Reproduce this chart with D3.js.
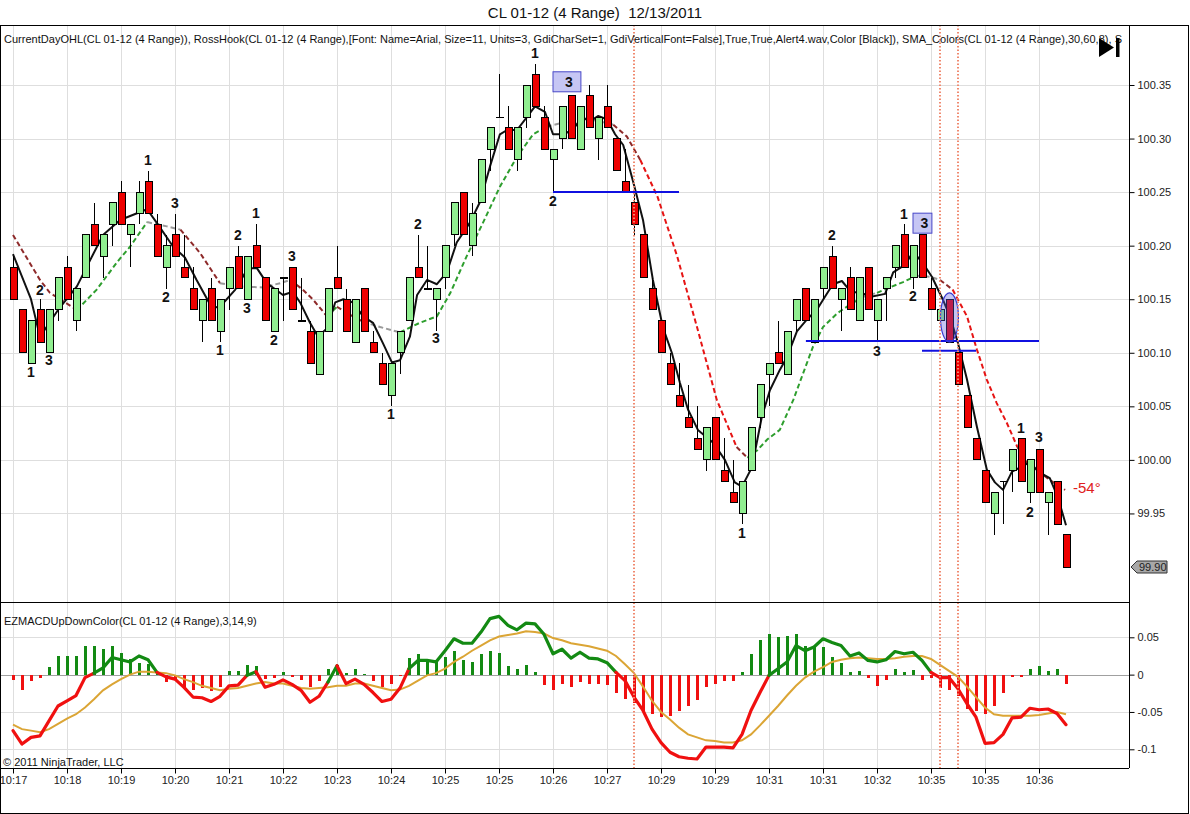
<!DOCTYPE html>
<html>
<head>
<meta charset="utf-8">
<script src="https://cdn.jsdelivr.net/npm/d3@7/dist/d3.min.js"></script>
<style>
body{margin:0;background:#fff;}
svg{display:block;font-family:Arial,"Liberation Sans",sans-serif;}
</style>
</head>
<body>
<svg id="chart"></svg>
<script>
// ---- candles (one per 4-tick range bar) ----
let opens = [100.18,100.14,100.09,100.14,100.10,100.14,100.18,100.13,100.17,100.22,
  100.19,100.22,100.25,100.21,100.23,100.26,100.22,100.18,100.21,100.18,
  100.16,100.13,100.16,100.12,100.16,100.19,100.15,100.20,100.17,100.12,
  100.17,100.18,100.13,100.12,100.08,100.12,100.17,100.15,100.11,100.16,
  100.11,100.09,100.06,100.10,100.13,100.18,100.16,100.15,100.17,100.21,
  100.25,100.20,100.24,100.29,100.32,100.31,100.28,100.32,100.36,100.32,
  100.28,100.30,100.34,100.29,100.34,100.30,100.33,100.30,100.26,100.24,
  100.21,100.16,100.13,100.09,100.06,100.04,100.02,100.00,100.04,99.99,
  99.97,99.95,99.99,100.04,100.08,100.10,100.08,100.13,100.16,100.11,
  100.16,100.19,100.15,100.17,100.13,100.18,100.13,100.16,100.18,100.21,
  100.17,100.21,100.16,100.13,100.15,100.10,100.06,100.02,99.99,99.95,
  99.98,99.99,100.02,99.97,100.01,99.96,99.98,99.93];
let highs = [100.19,100.14,100.13,100.15,100.14,100.17,100.19,100.16,100.21,100.24,
  100.21,100.24,100.26,100.22,100.26,100.27,100.23,100.21,100.23,100.21,
  100.18,100.15,100.17,100.15,100.18,100.20,100.19,100.22,100.17,100.16,
  100.17,100.18,100.17,100.13,100.12,100.16,100.20,100.16,100.15,100.16,
  100.12,100.10,100.09,100.12,100.17,100.21,100.20,100.16,100.20,100.24,
  100.25,100.24,100.28,100.31,100.36,100.33,100.31,100.35,100.37,100.33,
  100.29,100.33,100.34,100.33,100.35,100.32,100.35,100.30,100.29,100.25,
  100.21,100.17,100.13,100.10,100.09,100.07,100.05,100.03,100.04,100.02,
  100.00,99.98,100.03,100.07,100.09,100.13,100.12,100.15,100.16,100.15,
  100.18,100.20,100.16,100.18,100.17,100.18,100.15,100.17,100.20,100.22,
  100.20,100.21,100.17,100.14,100.15,100.10,100.06,100.02,99.99,99.97,
  99.98,100.01,100.02,100.00,100.01,99.97,99.98,99.93];
let lows = [100.15,100.10,100.09,100.11,100.10,100.13,100.15,100.12,100.17,100.20,
  100.17,100.20,100.22,100.18,100.22,100.23,100.19,100.16,100.19,100.17,
  100.14,100.11,100.13,100.11,100.14,100.16,100.15,100.18,100.13,100.12,
  100.13,100.14,100.13,100.09,100.08,100.12,100.16,100.12,100.11,100.12,
  100.10,100.07,100.05,100.08,100.13,100.17,100.16,100.12,100.16,100.20,
  100.21,100.19,100.24,100.27,100.32,100.29,100.27,100.31,100.33,100.29,
  100.25,100.29,100.30,100.29,100.31,100.28,100.31,100.27,100.25,100.21,
  100.17,100.14,100.10,100.07,100.05,100.03,100.01,99.99,100.00,99.98,
  99.96,99.94,99.99,100.03,100.05,100.09,100.08,100.12,100.13,100.11,
  100.15,100.16,100.12,100.14,100.13,100.14,100.11,100.13,100.17,100.18,
  100.16,100.17,100.14,100.13,100.11,100.07,100.03,100.00,99.96,99.93,
  99.94,99.97,99.98,99.96,99.97,99.93,99.94,99.90];
let closes = [100.15,100.10,100.13,100.11,100.14,100.17,100.15,100.16,100.21,100.20,
  100.21,100.24,100.22,100.22,100.25,100.23,100.19,100.20,100.19,100.17,
  100.14,100.15,100.13,100.15,100.18,100.16,100.19,100.18,100.13,100.16,
  100.17,100.14,100.13,100.09,100.12,100.16,100.16,100.12,100.15,100.12,
  100.10,100.07,100.09,100.12,100.17,100.17,100.16,100.16,100.20,100.24,
  100.21,100.23,100.28,100.31,100.32,100.29,100.31,100.35,100.33,100.29,
  100.29,100.33,100.30,100.33,100.31,100.32,100.31,100.27,100.25,100.22,
  100.17,100.14,100.10,100.07,100.05,100.03,100.01,100.03,100.00,99.98,
  99.96,99.98,100.03,100.07,100.09,100.09,100.12,100.15,100.13,100.15,
  100.18,100.16,100.16,100.14,100.17,100.14,100.15,100.17,100.20,100.18,
  100.20,100.17,100.14,100.14,100.11,100.07,100.03,100.00,99.96,99.97,
  99.98,100.01,99.98,100.00,99.97,99.97,99.94,99.90];

// ---- fast average (black): bar position / price ----
let fastBar = [0,2,3,5,7.1,8.6,10,11.9,14.9,16,17.8,19.1,20.4,22.1,23,24.7,26.1,27.1,28.2,30,
  31.1,31.9,33,33.9,34.9,35.8,36.7,37.8,38.9,40,41.1,42.1,43,44.1,44.9,46,47.1,48.2,49.3,50.8,
  51.9,53,54.1,54.9,56,57.1,58,59.1,60,61.1,62.2,63.2,64.1,65,66,66.9,67.8,68.9,70,71.1,
  72.2,73.2,74.1,75,76.1,77.8,79.1,80.2,81,82.1,83.2,84.1,85.2,86,87.1,88.2,89.3,90.2,91.1,92.1,
  93.2,94.1,95.2,96.9,97.8,99.1,100,101,102.1,103.3,104.1,105,106,107.1,108.2,109.1,110,111,111.9,113,
  113.9,115.2,116.1,117];
let fastVal = [100.192,100.150,100.115,100.140,100.162,100.187,100.210,100.224,100.234,100.221,
  100.199,100.189,100.168,100.142,100.143,100.159,100.179,100.179,100.165,100.154,
  100.157,100.147,100.128,100.115,100.123,100.147,100.150,100.147,100.134,100.128,
  100.109,100.091,100.093,100.115,100.154,100.168,100.164,100.175,100.203,100.222,
  100.241,100.274,100.304,100.308,100.308,100.320,100.330,100.325,100.304,100.304,
  100.308,100.320,100.316,100.321,100.318,100.304,100.294,100.260,100.224,100.168,
  100.124,100.100,100.072,100.047,100.028,100.016,100.000,99.979,99.975,99.993,
  100.040,100.065,100.084,100.096,100.120,100.131,100.140,100.152,100.164,100.167,
  100.156,100.157,100.152,100.155,100.175,100.182,100.194,100.185,100.171,100.150,
  100.134,100.109,100.075,100.031,99.991,99.979,99.972,99.989,99.993,99.998,
  99.989,99.983,99.965,99.939];

// ---- slow average (coloured dashes) ----
let slowBar = [0,3,4.1,7.1,9.3,11.6,13,14.9,17.1,18.6,20.8,23,25.2,27.8,29.7,30.8,32.2,33.3,34.9,36,
  37.1,38.9,40.8,43,45.2,47.1,48.6,50.4,52.2,54.1,56,57.8,59.3,61.6,63,65.2,66.7,68.2,69.7,71.6,
  73.8,76,78.2,80.4,81.6,82.7,83.8,85.2,86.7,87.8,88.9,90,91.6,93,94.4,96,97.4,98.9,100.4,101.9,
  103,104.4,106,107.1,108.2,109.3,110.4,111.6,112.7,114.1,115.6,116.9];
let slowVal = [100.210,100.168,100.156,100.140,100.159,100.185,100.199,100.222,100.218,100.215,
  100.193,100.165,100.162,100.161,100.165,100.168,100.159,100.150,100.134,100.143,
  100.137,100.129,100.124,100.119,100.128,100.134,100.156,100.190,100.221,100.255,
  100.283,100.304,100.311,100.316,100.320,100.316,100.313,100.302,100.280,100.246,
  100.190,100.124,100.056,100.012,100.002,100.009,100.019,100.028,100.056,100.081,
  100.106,100.124,100.137,100.145,100.152,100.156,100.161,100.166,100.172,100.171,
  100.168,100.159,100.134,100.103,100.075,100.053,100.035,100.012,99.997,99.988,
  99.979,99.972];

// ---- hook labels ----
let hookBar = [2,3,4,15,17,18,23,25,26,27,29,31,42,45,47,58,60,81,91,96,99,100,112,114,113];
let hookText = ["1","2","3","1","2","3","1","2","3","1","2","3","1","2","3","1","2","1","2","3","1","2","1","3","2"];
let hookPrice = [100.082,100.159,100.093,100.280,100.152,100.240,100.103,100.210,100.142,100.231,
  100.112,100.190,100.043,100.220,100.114,100.380,100.242,99.932,100.210,100.102,100.230,100.153,
  100.030,100.021,99.951];
let boxFrom = [60,100];
let boxTo = [63.1,102.1];
let boxPrice = [100.353,100.221];
let boxText = ["3","3"];

// ---- horizontal levels, alert lines, highlight ----
let levelPrice = [100.25,100.111,100.102];
let levelFrom = [60,88.1,101];
let levelTo = [74,114,107];
let alertBars = [69,103,105];
let highlightBar = 104.05;
let highlightTop = 100.156;
let highlightBottom = 100.110;
let lastPrice = 99.90;
let angleText = "-54°";

// ---- MACD panel ----
let macd = [-0.075,-0.093,-0.084,-0.082,-0.062,-0.042,-0.035,-0.028,-0.004,0.002,
  0.009,0.023,0.020,0.017,0.025,0.020,0.003,-0.003,-0.006,-0.017,
  -0.030,-0.031,-0.036,-0.029,-0.015,-0.014,-0.001,0.004,-0.017,-0.013,
  -0.007,-0.013,-0.021,-0.037,-0.029,-0.010,0.012,-0.012,-0.006,-0.013,
  -0.024,-0.036,-0.033,-0.018,0.008,0.019,0.019,0.017,0.032,0.048,
  0.042,0.042,0.057,0.075,0.078,0.066,0.060,0.069,0.068,0.054,
  0.028,0.034,0.022,0.030,0.022,0.021,0.016,0.003,-0.008,-0.030,
  -0.048,-0.073,-0.091,-0.104,-0.110,-0.112,-0.113,-0.097,-0.097,-0.097,
  -0.098,-0.080,-0.048,-0.024,-0.001,0.008,0.017,0.039,0.032,0.037,
  0.048,0.043,0.039,0.025,0.029,0.019,0.017,0.020,0.031,0.028,
  0.030,0.019,0.003,-0.004,-0.004,-0.019,-0.039,-0.057,-0.092,-0.091,
  -0.080,-0.058,-0.057,-0.045,-0.047,-0.046,-0.052,-0.067];
let signal = [-0.067,-0.073,-0.075,-0.077,-0.073,-0.066,-0.059,-0.053,-0.044,-0.033,
  -0.021,-0.013,-0.006,0.000,0.004,0.004,0.003,0.002,-0.001,-0.006,
  -0.010,-0.015,-0.018,-0.021,-0.019,-0.018,-0.015,-0.012,-0.010,-0.012,
  -0.012,-0.015,-0.018,-0.019,-0.018,-0.017,-0.015,-0.015,-0.012,-0.012,
  -0.015,-0.018,-0.021,-0.020,-0.015,-0.008,-0.001,0.002,0.008,0.017,
  0.024,0.032,0.039,0.046,0.051,0.053,0.055,0.058,0.057,0.055,
  0.049,0.046,0.042,0.040,0.038,0.035,0.032,0.025,0.014,0.002,
  -0.016,-0.035,-0.050,-0.060,-0.071,-0.080,-0.084,-0.088,-0.089,-0.091,
  -0.091,-0.088,-0.080,-0.068,-0.055,-0.042,-0.028,-0.015,-0.004,0.004,
  0.010,0.017,0.020,0.022,0.023,0.022,0.021,0.021,0.022,0.024,
  0.025,0.025,0.021,0.013,0.005,-0.003,-0.016,-0.030,-0.044,-0.053,
  -0.055,-0.055,-0.055,-0.055,-0.054,-0.052,-0.050,-0.053];
let hist = [-0.007,-0.021,-0.009,-0.005,0.010,0.025,0.025,0.025,0.039,0.039,
  0.034,0.038,0.029,0.021,0.015,0.014,0.002,-0.010,-0.007,-0.016,
  -0.021,-0.018,-0.022,-0.016,0.005,0.005,0.013,0.011,-0.006,-0.004,
  0.004,-0.003,-0.007,-0.016,-0.009,0.007,0.013,0.002,0.007,0.001,
  -0.008,-0.017,-0.012,-0.002,0.022,0.027,0.020,0.017,0.023,0.032,
  0.019,0.017,0.027,0.032,0.029,0.012,0.007,0.013,0.004,-0.014,
  -0.021,-0.012,-0.017,-0.010,-0.013,-0.012,-0.014,-0.025,-0.033,-0.038,
  -0.050,-0.053,-0.057,-0.055,-0.049,-0.042,-0.034,-0.016,-0.012,-0.009,
  -0.008,0.004,0.027,0.046,0.055,0.051,0.052,0.055,0.038,0.037,
  0.037,0.024,0.015,0.003,0.005,-0.004,-0.015,-0.007,0.008,0.003,
  0.006,-0.007,-0.005,-0.018,-0.021,-0.028,-0.046,-0.049,-0.053,-0.042,
  -0.024,-0.003,-0.003,0.008,0.011,0.005,0.007,-0.013];

// ---- axes ----
let timeTickBars = [0,6,12,18,24,30,36,42,48,54,60,66,72,78,84,90,96,102,108,114];
let timeLabels = ["10:17","10:18","10:19","10:20","10:21","10:22","10:23","10:24","10:25","10:25",
  "10:26","10:27","10:29","10:29","10:31","10:31","10:32","10:35","10:35","10:36"];
let priceTicks = [99.95,100.00,100.05,100.10,100.15,100.20,100.25,100.30,100.35];
let macdTicks = [0.05,0,-0.05,-0.1];

let titleText = "CL 01-12 (4 Range)  12/13/2011";
let studyText = "CurrentDayOHL(CL 01-12 (4 Range)), RossHook(CL 01-12 (4 Range),[Font: Name=Arial, Size=11, Units=3, GdiCharSet=1, GdiVerticalFont=False],True,True,Alert4.wav,Color [Black]), SMA_Colors(CL 01-12 (4 Range),30,60,8), S";
let macdText = "EZMACDUpDownColor(CL 01-12 (4 Range),3,14,9)";
let copyText = "© 2011 NinjaTrader, LLC";

let width = 1190;
let height = 814;
let panel = {left:0, right:1129, top:25, split:602, bottom:768};

let colors = {
  up:"#90ee90", down:"#ee0000", grid:"#dedede", axis:"#000",
  macdUp:"#138a13", macdDown:"#f01010", signal:"#dba535",
  slowUp:"#2e9e2e", slowFlat:"#9a9a9a", slowDown:"#8e2a2a", slowFall:"#e61414",
  level:"#1010e0", alert:"#f08a70"
};

let svg = d3.select("#chart")
            .attr("width", width)
            .attr("height", height)
            .style("background-color", "white");

let scaleX = d3.scaleLinear().domain([0, 117]).range([13, 1066]);
let scaleY = d3.scaleLinear().domain([99.90, 100.35]).range([567, 85]);
let scaleM = d3.scaleLinear().domain([-0.1, 0.05]).range([749.3, 637.3]);

let defs = svg.append("defs");
defs.append("clipPath").attr("id", "clipMain")
    .append("rect").attr("x", 0).attr("y", panel.top).attr("width", panel.right).attr("height", panel.split - panel.top);
defs.append("clipPath").attr("id", "clipMacd")
    .append("rect").attr("x", 0).attr("y", panel.split).attr("width", panel.right).attr("height", panel.bottom - panel.split);

drawGrid();
let gMain = svg.append("g").attr("clip-path", "url(#clipMain)");
let gMacd = svg.append("g").attr("clip-path", "url(#clipMacd)");
drawSlow();
drawFast();
drawCandles();
drawMarks();
drawMacd();
drawAxes();
drawTexts();

function drawGrid(){
    let g = svg.append("g").attr("shape-rendering", "crispEdges");
    g.selectAll(".vgrid")
     .data(timeTickBars)
     .enter()
     .append("line")
     .attr("x1", d => scaleX(d)).attr("x2", d => scaleX(d))
     .attr("y1", panel.top).attr("y2", panel.bottom)
     .attr("stroke", colors.grid);
    g.selectAll(".pgrid")
     .data(priceTicks)
     .enter()
     .append("line")
     .attr("x1", 0).attr("x2", panel.right)
     .attr("y1", d => Math.round(scaleY(d)) + 0.5).attr("y2", d => Math.round(scaleY(d)) + 0.5)
     .attr("stroke", colors.grid);
    g.selectAll(".mgrid")
     .data(macdTicks)
     .enter()
     .append("line")
     .attr("x1", 0).attr("x2", panel.right)
     .attr("y1", d => Math.round(scaleM(d)) + 0.5).attr("y2", d => Math.round(scaleM(d)) + 0.5)
     .attr("stroke", d => d === 0 ? "#a0a0a0" : colors.grid);
}

// group consecutive segments of equal colour into one path
function runs(n, colorOf){
    let list = [];
    for (let k = 0; k < n - 1; k++){
        let c = colorOf(k);
        let last = list[list.length - 1];
        if (last && last.color === c) last.idx.push(k + 1);
        else list.push({color:c, idx:[k, k + 1]});
    }
    return list;
}

function drawSlow(){
    let line = d3.line().x(k => scaleX(slowBar[k])).y(k => scaleY(slowVal[k]));
    let parts = runs(slowBar.length, k => {
        let slope = (slowVal[k + 1] - slowVal[k]) / (slowBar[k + 1] - slowBar[k]);
        if (slope <= -0.015) return colors.slowFall;
        if (slope < -0.003) return colors.slowDown;
        if (slope <= 0.003) return colors.slowFlat;
        return colors.slowUp;
    });
    gMain.selectAll(".slow")
         .data(parts)
         .enter()
         .append("path")
         .attr("d", d => line(d.idx))
         .attr("fill", "none")
         .attr("stroke", d => d.color)
         .attr("stroke-width", 2)
         .attr("stroke-dasharray", "5,3");
}

function drawFast(){
    let line = d3.line().x((d, i) => scaleX(fastBar[i])).y(d => scaleY(d));
    gMain.append("path")
         .attr("d", line(fastVal))
         .attr("fill", "none")
         .attr("stroke", "#111")
         .attr("stroke-width", 2)
         .attr("stroke-linejoin", "round");
}

function drawCandles(){
    let bars = opens.map((o, i) => ({i:i, o:o, h:highs[i], l:lows[i], c:closes[i]}));
    let g = gMain.append("g").attr("shape-rendering", "crispEdges");
    let candle = g.selectAll(".candle").data(bars).enter().append("g");
    candle.append("line")
          .attr("x1", d => scaleX(d.i) + 0.5).attr("x2", d => scaleX(d.i) + 0.5)
          .attr("y1", d => scaleY(d.h)).attr("y2", d => scaleY(d.l))
          .attr("stroke", "#000");
    candle.append("rect")
          .attr("x", d => scaleX(d.i) - 3)
          .attr("y", d => scaleY(Math.max(d.o, d.c)))
          .attr("width", 7)
          .attr("height", d => Math.max(0.5, Math.abs(scaleY(d.o) - scaleY(d.c))))
          .attr("fill", d => d.c > d.o ? colors.up : (d.c < d.o ? colors.down : "#000"))
          .attr("stroke", "#000");
}

function drawMarks(){
    // support / resistance levels
    gMain.selectAll(".level")
         .data(levelPrice)
         .enter()
         .append("line")
         .attr("x1", (d, i) => scaleX(levelFrom[i])).attr("x2", (d, i) => scaleX(levelTo[i]))
         .attr("y1", d => scaleY(d)).attr("y2", d => scaleY(d))
         .attr("stroke", colors.level)
         .attr("stroke-width", 2);

    gMain.append("ellipse")
         .attr("cx", scaleX(highlightBar))
         .attr("cy", (scaleY(highlightTop) + scaleY(highlightBottom)) / 2)
         .attr("rx", 9)
         .attr("ry", (scaleY(highlightBottom) - scaleY(highlightTop)) / 2)
         .attr("fill", "rgba(90,90,220,0.35)")
         .attr("stroke", "#3a3ad0")
         .attr("stroke-width", 1.2);

    gMain.selectAll(".hook")
         .data(hookText)
         .enter()
         .append("text")
         .attr("x", (d, i) => scaleX(hookBar[i]))
         .attr("y", (d, i) => scaleY(hookPrice[i]))
         .attr("dy", "0.36em")
         .attr("text-anchor", "middle")
         .style("font-size", "14px")
         .style("font-weight", "bold")
         .attr("fill", "#111")
         .text(d => d);

    let box = gMain.selectAll(".hookbox").data(boxText).enter().append("g");
    box.append("rect")
       .attr("x", (d, i) => scaleX(boxFrom[i]))
       .attr("y", (d, i) => scaleY(boxPrice[i]) - 10)
       .attr("width", (d, i) => scaleX(boxTo[i]) - scaleX(boxFrom[i]))
       .attr("height", 20)
       .attr("fill", "#c6c6f4")
       .attr("stroke", "#4848c8");
    box.append("text")
       .attr("x", (d, i) => (scaleX(boxTo[i]) + scaleX(boxFrom[i])) / 2 + 2)
       .attr("y", (d, i) => scaleY(boxPrice[i]))
       .attr("dy", "0.36em")
       .attr("text-anchor", "middle")
       .style("font-size", "14px")
       .style("font-weight", "bold")
       .attr("fill", "#111")
       .text(d => d);

    // alert lines run through both panels
    svg.selectAll(".alert")
       .data(alertBars)
       .enter()
       .append("line")
       .attr("x1", d => scaleX(d)).attr("x2", d => scaleX(d))
       .attr("y1", panel.top).attr("y2", panel.bottom)
       .attr("stroke", colors.alert)
       .attr("stroke-width", 2)
       .attr("stroke-dasharray", "1.5,2");

    gMain.append("text")
         .attr("x", scaleX(117) + 7)
         .attr("y", scaleY(99.974))
         .attr("dy", "0.36em")
         .style("font-size", "15px")
         .attr("fill", "#e02020")
         .text(angleText);
}

function drawMacd(){
    gMacd.append("g")
         .attr("shape-rendering", "crispEdges")
         .selectAll("rect")
         .data(hist)
         .enter()
         .append("rect")
         .attr("x", (d, i) => Math.round(scaleX(i)) - 1)
         .attr("y", d => Math.min(scaleM(d), scaleM(0)))
         .attr("width", 3)
         .attr("height", d => Math.abs(scaleM(d) - scaleM(0)))
         .attr("fill", d => d >= 0 ? colors.macdUp : colors.macdDown);

    gMacd.append("path")
         .attr("d", d3.line().x((d, i) => scaleX(i)).y(d => scaleM(d))(signal))
         .attr("fill", "none")
         .attr("stroke", colors.signal)
         .attr("stroke-width", 2);

    let line = d3.line().x(k => scaleX(k)).y(k => scaleM(macd[k]));
    let parts = runs(macd.length, k => (macd[k] + macd[k + 1]) / 2 > 0 ? colors.macdUp : colors.macdDown);
    gMacd.selectAll(".macd")
         .data(parts)
         .enter()
         .append("path")
         .attr("d", d => line(d.idx))
         .attr("fill", "none")
         .attr("stroke", d => d.color)
         .attr("stroke-width", 3.2)
         .attr("stroke-linejoin", "round")
         .attr("stroke-linecap", "round");
}

function drawAxes(){
    let yAxis = d3.axisRight(scaleY).tickValues(priceTicks).tickFormat(d3.format(".2f")).tickSize(5);
    let mAxis = d3.axisRight(scaleM).tickValues(macdTicks).tickFormat(d => d === 0 ? "0" : String(d)).tickSize(5);
    let xAxis = d3.axisBottom(scaleX).tickValues(timeTickBars).tickFormat((d, i) => timeLabels[i]).tickSize(5);

    [[yAxis, `translate(${panel.right + 0.5},0)`], [mAxis, `translate(${panel.right + 0.5},0)`],
     [xAxis, `translate(0,${panel.bottom + 0.5})`]].forEach(a => {
        let g = svg.append("g").attr("transform", a[1]).call(a[0]);
        g.select(".domain").remove();
        g.selectAll("text").style("font-size", "11px").attr("fill", "#222").style("font-family", "Arial, 'Liberation Sans', sans-serif");
        g.selectAll("line").attr("stroke", "#000");
    });

    let frame = svg.append("g").attr("shape-rendering", "crispEdges").attr("stroke", colors.axis).attr("fill", "none");
    frame.append("rect").attr("x", 0.5).attr("y", panel.top + 0.5).attr("width", 1187.5).attr("height", 787.5);
    frame.append("line").attr("x1", 0).attr("x2", panel.right).attr("y1", panel.split + 0.5).attr("y2", panel.split + 0.5);
    frame.append("line").attr("x1", 0).attr("x2", panel.right).attr("y1", panel.bottom + 0.5).attr("y2", panel.bottom + 0.5);
    frame.append("line").attr("x1", panel.right + 0.5).attr("x2", panel.right + 0.5).attr("y1", panel.top).attr("y2", panel.bottom);

    // last price marker
    let yl = scaleY(lastPrice);
    svg.append("path")
       .attr("d", `M${panel.right + 2},${yl} L${panel.right + 8},${yl - 6} L${panel.right + 38},${yl - 6} L${panel.right + 38},${yl + 6} L${panel.right + 8},${yl + 6} Z`)
       .attr("fill", "#a8a8a8")
       .attr("stroke", "#333");
    svg.append("text")
       .attr("x", panel.right + 10)
       .attr("y", yl)
       .attr("dy", "0.36em")
       .style("font-size", "11px")
       .attr("fill", "#222")
       .text(lastPrice.toFixed(2));
}

function drawTexts(){
    svg.append("text")
       .attr("x", 595).attr("y", 18)
       .attr("text-anchor", "middle")
       .style("font-size", "15px")
       .style("white-space", "pre")
       .attr("fill", "#111")
       .text(titleText);

    svg.append("text")
       .attr("x", 4).attr("y", 43)
       .attr("textLength", 1118)
       .attr("lengthAdjust", "spacing")
       .style("font-size", "11px")
       .attr("fill", "#111")
       .text(studyText);

    gMacd.append("text")
         .attr("x", 4).attr("y", 625)
         .style("font-size", "11px")
         .attr("fill", "#111")
         .text(macdText);

    gMacd.append("text")
         .attr("x", 3).attr("y", 766)
         .style("font-size", "11px")
         .attr("fill", "#111")
         .text(copyText);

    // scroll-to-end button
    svg.append("path").attr("d", "M1099,38 L1114,47.5 L1099,57 Z").attr("fill", "#000");
    svg.append("rect").attr("x", 1116).attr("y", 38).attr("width", 3.5).attr("height", 19).attr("fill", "#000");
}
</script>
</body>
</html>
